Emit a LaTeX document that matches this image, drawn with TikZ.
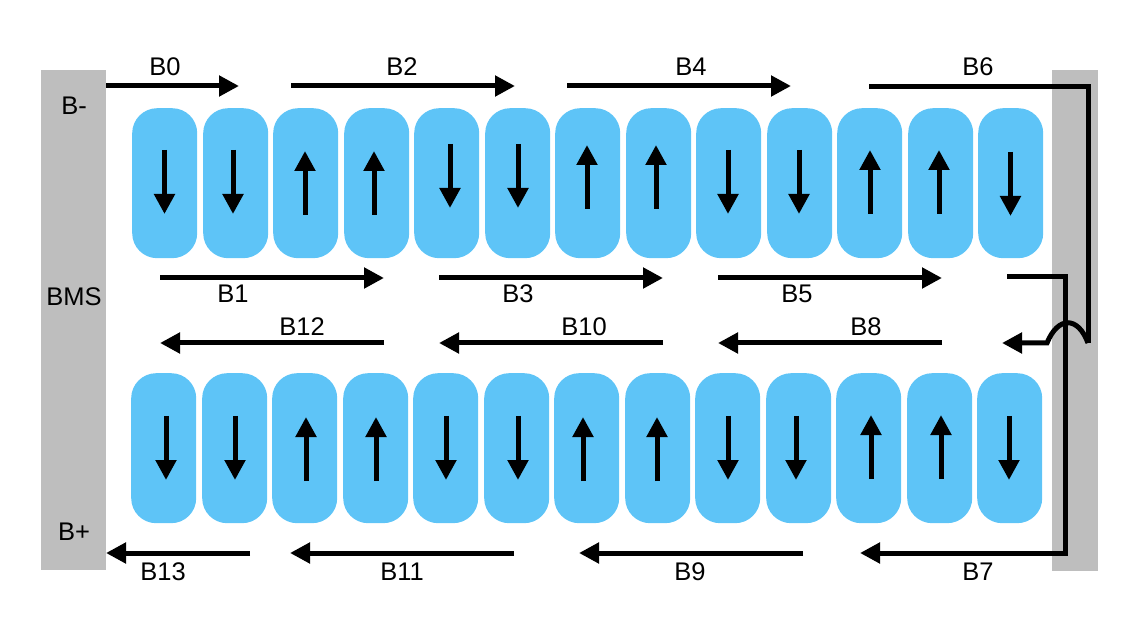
\documentclass[tikz,border=0pt]{standalone}
\usepackage{fontspec}
\setmainfont{Liberation Sans}
\usetikzlibrary{arrows.meta}
\definecolor{cellblue}{HTML}{5EC4F7}
\definecolor{bargray}{HTML}{BEBEBE}
\tikzset{
    cell/.style={fill=cellblue, rounded corners=25pt, minimum width=65pt, minimum height=150pt, inner sep=0pt},
    bar/.style={fill=bargray, minimum height=500pt, inner sep=0pt},
    lbl/.style={font=\fontsize{25.5}{26}\selectfont, inner sep=0pt},
    wire/.style={line width=5pt},
    arr/.style={wire, -{Triangle[length=20pt, width=20pt]}},
}
\begin{document}
\begin{tikzpicture}[x=1pt, y=-1pt]
        \useasboundingbox (0,0) rectangle (1144,644);
        \node [bar, minimum width=65pt] (bms) at (73.5,320) {};
        \node [bar, minimum width=46pt] (rail) at (1075,320.5) {};
        % top row of cells
        \foreach \n/\x/\a/\d in {1/132/164.5/150, 2/203/233/150, 3/273/305/-215, 4/344/374/-215, 5/414/450/144, 6/485/518/144, 7/555/587/-209, 8/626/656/-209, 9/696/728/150, 10/767/799/150, 11/837/870/-214, 12/908/939/-214, 13/978/1010.5/152} {
            \node [cell, anchor=north west] (t\n) at (\x,108) {};
            \pgfmathsetmacro{\ya}{abs(\d)}
            \pgfmathsetmacro{\yb}{\d<0 ? \ya-64 : \ya+64}
            \coordinate (ta\n) at (\a,\ya);
            \coordinate (tb\n) at (\a,\yb);
            \draw [arr] (ta\n) -- (tb\n);
        }
        % bottom row of cells
        \foreach \n/\x/\a/\d in {1/131/166/416, 2/202/235/416, 3/272/306/-481, 4/343/376/-481, 5/413/446/416, 6/484/518/416, 7/554/583/-481, 8/625/657/-481, 9/695/728/416, 10/766/796/416, 11/836/871/-479, 12/907/941/-479, 13/977/1009/416} {
            \node [cell, anchor=north west] (u\n) at (\x,373) {};
            \pgfmathsetmacro{\ya}{abs(\d)}
            \pgfmathsetmacro{\yb}{\d<0 ? \ya-64 : \ya+64}
            \coordinate (ua\n) at (\a,\ya);
            \coordinate (ub\n) at (\a,\yb);
            \draw [arr] (ua\n) -- (ub\n);
        }
        % current arrows between the rows
        \foreach \n/\xa/\xb/\y in {0/106/239/86, 2/291/515/86, 4/567/791/86, 1/160/384/278, 3/439/663/278, 5/718/942/278, 12/384/160/343, 10/663/439/343, 8/942/718/343, 13/250/106/553, 11/514/290/553, 9/803/579/553} {
            \coordinate (s\n) at (\xa,\y);
            \coordinate (e\n) at (\xb,\y);
            \draw [arr] (s\n) -- (e\n);
        }
        % the two long wires
        \coordinate (s6) at (869,86.5);
        \coordinate (k6) at (1088,86.5);
        \coordinate (h6) at (1088,343);
        \coordinate (m6) at (1047,343);
        \coordinate (e6) at (1002,343);
        \draw [wire] (s6) -- (k6) -- (h6);
        \draw [arr] (h6) .. controls (1078,316) and (1058,316) .. (m6) -- (e6);
        \coordinate (s7) at (1007,277);
        \coordinate (k7) at (1065,277);
        \coordinate (h7) at (1065,553);
        \coordinate (e7) at (860,553);
        \draw [arr] (s7) -- (k7) -- (h7) -- (e7);
        % labels
        \foreach \t/\x/\y in {B0/165/67, B2/402/67, B4/691/67, B6/978/67, B1/233/294, B3/518/294, B5/797/294, B12/302/327, B10/584/327, B8/866/327, B13/163/572, B11/402/572, B9/690/572, B7/978/572, B-/74/106, B+/74/532, BMS/74/297} {
            \node [lbl] (l\t) at (\x,\y) {\t};
        }
    \end{tikzpicture}
\end{document}
